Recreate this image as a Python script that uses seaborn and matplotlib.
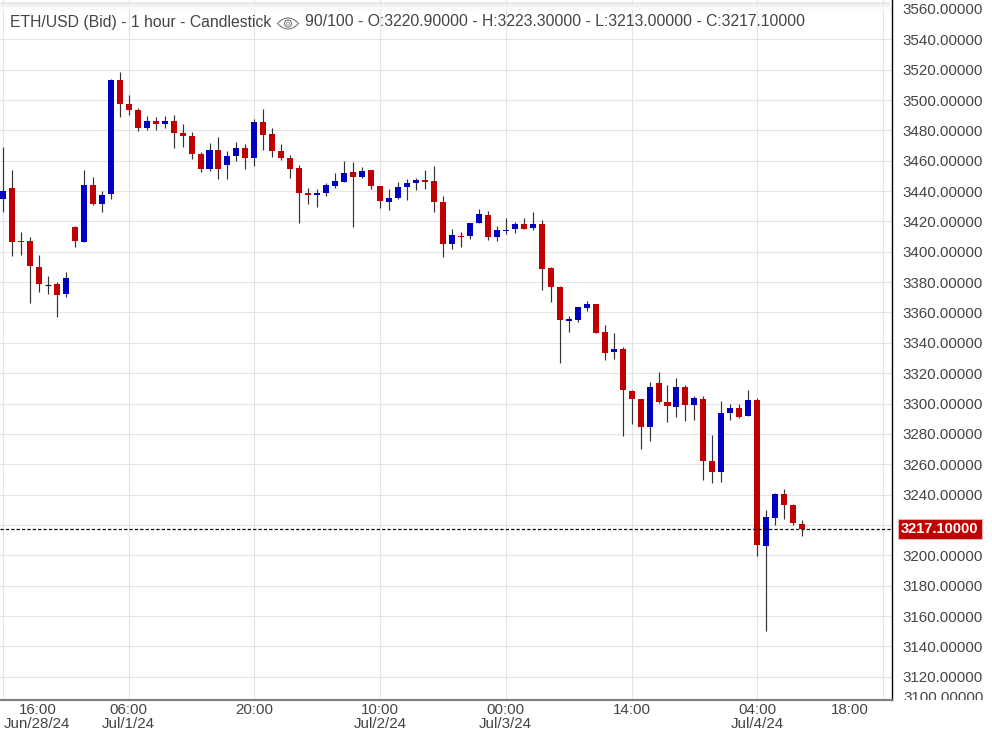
import numpy as np
import pandas as pd
import matplotlib
matplotlib.use("Agg")
import matplotlib.pyplot as plt
import matplotlib.patches as mpatches
from matplotlib.transforms import Bbox
import seaborn as sns

# ETH/USD 1 hour candles
opens = [3434.8, 3442.0, 3407.1, 3407.1, 3390.0, 3377.8, 3378.8, 3372.2, 3416.3, 3406.4,
         3444.0, 3431.5, 3438.1, 3513.2, 3497.4, 3493.4, 3481.6, 3486.2, 3484.2, 3486.2,
         3478.3, 3476.3, 3464.4, 3454.5, 3467.1, 3457.2, 3463.1, 3468.4, 3461.8, 3485.5,
         3477.6, 3466.4, 3461.8, 3455.2, 3438.7, 3437.4, 3438.7, 3443.3, 3445.9, 3452.5,
         3449.2, 3453.8, 3443.3, 3432.8, 3435.4, 3442.6, 3445.3, 3447.3, 3446.6, 3432.8,
         3405.1, 3410.4, 3410.4, 3418.9, 3424.2, 3409.7, 3413.7, 3415.0, 3418.3, 3415.6,
         3418.3, 3389.3, 3376.7, 3354.3, 3355.0, 3362.9, 3365.6, 3347.1, 3334.0, 3335.9,
         3308.3, 3303.0, 3284.5, 3313.5, 3301.0, 3297.7, 3310.9, 3299.0, 3303.0, 3262.1,
         3254.9, 3293.8, 3297.1, 3291.8, 3302.3, 3206.1, 3224.6, 3240.4, 3233.1, 3220.9]
highs = [3469.3, 3453.9, 3413.0, 3409.7, 3397.9, 3384.0, 3380.1, 3386.7, 3417.0, 3453.9,
         3449.3, 3440.0, 3513.8, 3518.5, 3503.3, 3494.7, 3489.5, 3488.8, 3489.5, 3490.1,
         3484.2, 3478.9, 3465.7, 3471.7, 3475.6, 3466.4, 3472.3, 3471.0, 3487.5, 3494.1,
         3481.6, 3471.0, 3463.8, 3457.2, 3442.0, 3441.4, 3445.3, 3451.9, 3459.8, 3459.1,
         3455.8, 3453.8, 3443.3, 3441.3, 3445.9, 3447.9, 3448.6, 3453.8, 3456.5, 3436.7,
         3415.0, 3413.0, 3418.9, 3428.1, 3426.8, 3416.9, 3422.2, 3419.6, 3422.2, 3426.2,
         3420.9, 3389.9, 3377.4, 3357.6, 3363.6, 3367.6, 3365.6, 3351.7, 3346.5, 3337.3,
         3308.9, 3303.0, 3314.2, 3320.8, 3312.2, 3316.8, 3312.2, 3305.0, 3305.0, 3279.3,
         3301.7, 3299.7, 3299.7, 3308.9, 3303.6, 3229.8, 3241.1, 3243.7, 3233.8, 3223.3]
lows = [3426.2, 3397.2, 3397.9, 3366.2, 3373.5, 3372.2, 3357.0, 3370.2, 3403.2, 3406.4,
        3430.8, 3426.2, 3434.8, 3488.8, 3490.1, 3479.6, 3480.2, 3480.2, 3481.6, 3468.4,
        3469.0, 3461.1, 3452.6, 3453.2, 3447.9, 3447.9, 3459.8, 3454.5, 3456.5, 3467.1,
        3462.4, 3460.5, 3448.6, 3419.0, 3431.5, 3429.5, 3436.8, 3442.0, 3445.9, 3416.3,
        3448.6, 3441.3, 3428.8, 3427.5, 3434.7, 3434.1, 3440.7, 3441.3, 3426.2, 3396.5,
        3401.8, 3403.1, 3408.4, 3418.9, 3407.7, 3407.1, 3411.7, 3412.3, 3415.0, 3414.3,
        3374.8, 3366.9, 3326.7, 3347.1, 3353.7, 3360.9, 3346.5, 3328.7, 3329.3, 3278.6,
        3286.5, 3270.0, 3275.3, 3300.4, 3287.8, 3291.1, 3288.5, 3289.2, 3249.6, 3247.6,
        3248.3, 3289.2, 3290.5, 3291.8, 3199.5, 3150.1, 3220.0, 3223.9, 3220.0, 3213.0]
closes = [3440.0, 3406.4, 3406.4, 3390.6, 3378.8, 3377.8, 3371.5, 3382.7, 3407.1, 3444.0,
          3431.5, 3437.4, 3513.2, 3497.4, 3493.4, 3481.6, 3486.2, 3484.2, 3486.2, 3478.3,
          3476.3, 3464.4, 3454.5, 3467.1, 3454.5, 3463.1, 3468.4, 3461.8, 3485.5, 3476.9,
          3466.4, 3461.8, 3454.5, 3438.7, 3437.4, 3438.7, 3444.0, 3446.6, 3451.9, 3449.2,
          3453.2, 3443.3, 3433.4, 3435.4, 3442.6, 3445.3, 3447.3, 3445.9, 3432.8, 3405.1,
          3411.0, 3409.7, 3418.9, 3424.9, 3409.7, 3414.3, 3414.3, 3418.3, 3415.0, 3418.3,
          3388.6, 3376.7, 3355.0, 3355.7, 3363.6, 3365.6, 3346.5, 3333.3, 3335.9, 3308.9,
          3303.0, 3284.5, 3310.9, 3301.0, 3298.4, 3310.9, 3299.0, 3303.6, 3262.1, 3254.9,
          3293.8, 3297.1, 3291.1, 3302.3, 3206.8, 3225.2, 3240.4, 3233.1, 3221.3, 3217.1]

price_ticks = [3560, 3540, 3520, 3500, 3480, 3460, 3440, 3420, 3400, 3380, 3360, 3340,
               3320, 3300, 3280, 3260, 3240, 3220, 3200, 3180, 3160, 3140, 3120]
time_ticks = [0, 14, 28, 42, 56, 70, 84, 98]
time_labels = ["16:00", "06:00", "20:00", "10:00", "00:00", "14:00", "04:00", "18:00"]
date_labels = ["Jun/28/24", "Jul/1/24", "", "Jul/2/24", "Jul/3/24", "", "Jul/4/24", ""]
# first and last labels are pushed inwards by the platform
label_pos = [3.85, 14, 28, 42, 56, 70, 84, 94.3]
last_price = 3217.10

RED = "#c00000"
BLUE = "#0000c0"
WICK = "#333333"
GRID = "#e4e4e4"
TEXT = "#444444"

sns.set_theme(style="white", font="Liberation Sans")

df = pd.DataFrame({"i": np.arange(len(opens)), "open": opens, "high": highs, "low": lows, "close": closes})
df["body"] = (df["close"] - df["open"]).abs()
df["bottom"] = df[["open", "close"]].min(axis=1)

fig = plt.figure(figsize=(9.92, 7.32), dpi=100)
ax = fig.add_axes([0, 1 - 700 / 732, 892 / 992, 700 / 732])
ax.set_xlim(-0.33, 99.0)
ax.set_ylim(3200 + (555.3 - 700) / 1.5176, 3200 + 555.3 / 1.5176)

ax.set_axisbelow(True)
ax.set_xticks(time_ticks)
ax.set_yticks(price_ticks)
ax.grid(True, color=GRID, linewidth=0.8)
ax.tick_params(length=0, labelbottom=False, labelleft=False, labelright=True, right=False)

ax.vlines(df["i"], df["low"], df["high"], color=WICK, linewidth=0.85, zorder=2)

# bodies, one call per colour
for mask, col in [(df["close"] > df["open"], BLUE), (df["close"] < df["open"], RED)]:
    part = df[mask]
    sns.barplot(data=part, x="i", y="body", bottom=part["bottom"].values, native_scale=True,
                color=col, saturation=1, width=0.67, errorbar=None, ax=ax, linewidth=0, zorder=3)

# open == close prints as a dash
flat = df[df["close"] == df["open"]]
ax.hlines(flat["open"], flat["i"] - 0.33, flat["i"] + 0.33, color="#222222", linewidth=0.85, zorder=3)

ax.set_xlim(-0.33, 99.0)
ax.set_xlabel("")
ax.set_ylabel("")
ax.set_xticks(time_ticks)
ax.set_yticks(price_ticks)
ax.set_xticklabels([])
ax.set_yticklabels([f"{p:.5f}" if p != 3220 else "" for p in price_ticks], fontsize=10.9, color=TEXT)
ax.yaxis.tick_right()
ax.tick_params(axis="y", length=0, pad=7.6)

ax.axhline(last_price, color="black", linewidth=0.9, dashes=(2.6, 1.7), zorder=4)

ax.spines["top"].set_visible(False)
ax.spines["left"].set_visible(False)
ax.spines["right"].set_color("black")
ax.spines["right"].set_linewidth(1.0)
ax.spines["bottom"].set_color("#808080")
ax.spines["bottom"].set_linewidth(1.6)

# time labels under the axis
trans = ax.get_xaxis_transform()
for pos, t, d in zip(label_pos, time_labels, date_labels):
    ax.text(pos, -9.5 / 700, t, transform=trans, ha="center", va="center", fontsize=10.9, color=TEXT, clip_on=False)
    if d:
        ax.text(pos, -24.5 / 700, d, transform=trans, ha="center", va="center", fontsize=10.9, color=TEXT, clip_on=False)

# 3100 label is cut by the plot's bottom edge
cut = fig.text(903 / 992, 1 - 697.5 / 732, "3100.00000", ha="left", va="center", fontsize=10.9, color=TEXT)
cut.set_clip_box(Bbox([[890, 732 - 700], [992, 732]]))
cut.set_clip_on(True)

# last price tag
fig.patches.append(mpatches.Rectangle((897.5 / 992, 1 - 538.5 / 732), 84.5 / 992, 19.5 / 732, transform=fig.transFigure,
                                      facecolor=RED, edgecolor="#e8b0b0", linewidth=0.8, figure=fig))
fig.text(939.5 / 992, 1 - 529 / 732, "3217.10000", ha="center", va="center", fontsize=10.5, color="white", fontweight="bold")

# header band and caption
band = np.linspace(0.88, 1.0, 8).reshape(-1, 1)
band_ax = fig.add_axes([0, 1 - 10 / 732, 890 / 992, 8 / 732])
band_ax.imshow(band, cmap="gray", vmin=0, vmax=1, aspect="auto", alpha=0.8)
band_ax.axis("off")

fig.text(10 / 992, 1 - 22 / 732, "ETH/USD (Bid) - 1 hour - Candlestick", ha="left", va="center", fontsize=11.33, color=TEXT)
fig.text(305 / 992, 1 - 22 / 732, "90/100 - O:3220.90000 - H:3223.30000 - L:3213.00000 - C:3217.10000",
         ha="left", va="center", fontsize=11.33, color=TEXT)

# eye icon
eye_x = np.linspace(-1, 1, 40)
eye_top = 23.5 - 5.5 * (1 - eye_x ** 2)
eye_bot = 23.5 + 5.5 * (1 - eye_x ** 2)
for curve in (eye_top, eye_bot):
    fig.add_artist(plt.Line2D((288 + 10.5 * eye_x) / 992, 1 - curve / 732, color="#777777", linewidth=0.8))
fig.add_artist(mpatches.Ellipse((288 / 992, 1 - 23.5 / 732), 7 / 992, 7 / 732, fill=False, edgecolor="#777777",
                                linewidth=0.8, transform=fig.transFigure))
fig.add_artist(mpatches.Ellipse((288 / 992, 1 - 23.5 / 732), 3 / 992, 3 / 732, fill=False, edgecolor="#999999",
                                linewidth=0.7, transform=fig.transFigure))

fig.savefig("out.png", dpi=100)
